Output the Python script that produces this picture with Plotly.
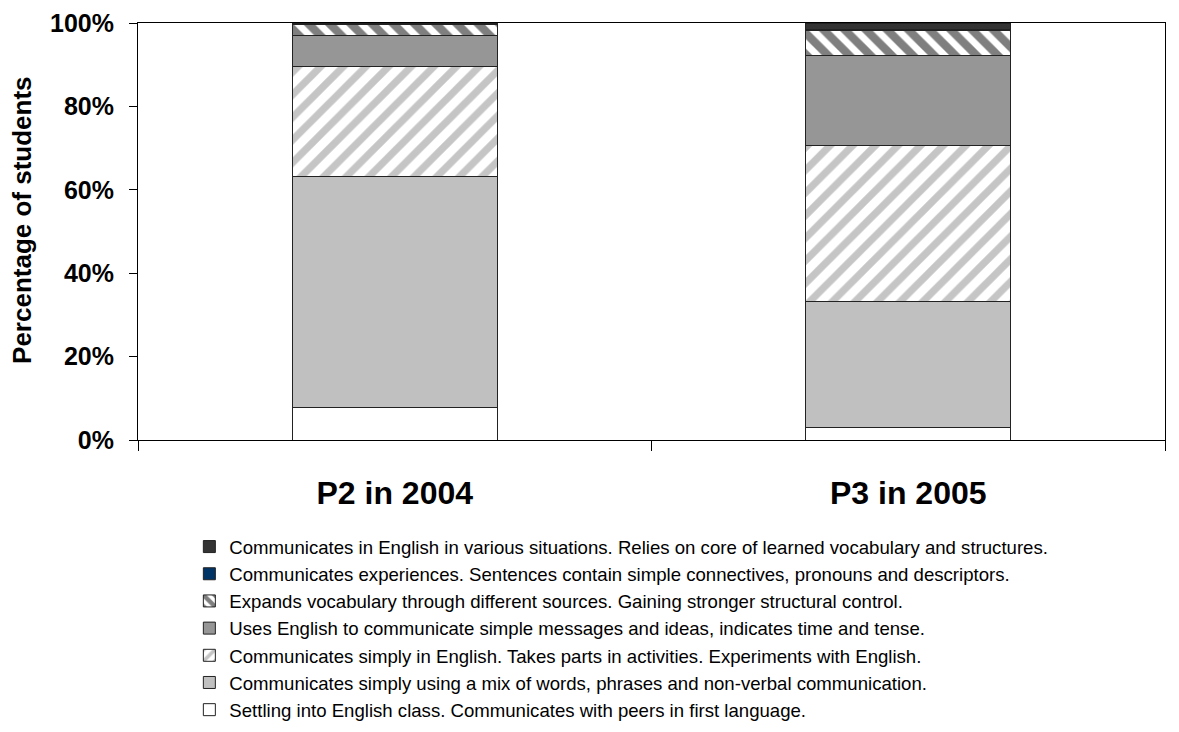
import plotly.graph_objects as go

categories = ["P2 in 2004", "P3 in 2005"]

series_names = [
    "Settling into English class. Communicates with peers in first language.",
    "Communicates simply using a mix of words, phrases and non-verbal communication.",
    "Communicates simply in English. Takes parts in activities. Experiments with English.",
    "Uses English to communicate simple messages and ideas, indicates time and tense.",
    "Expands vocabulary through different sources. Gaining stronger structural control.",
    "Communicates experiences. Sentences contain simple connectives, pronouns and descriptors.",
    "Communicates in English in various situations. Relies on core of learned vocabulary and structures.",
]

settling = [7.8, 3.0]
mix_words = [55.3, 30.2]
simply_english = [26.4, 37.5]
simple_messages = [7.5, 21.6]
expands_vocab = [2.6, 5.8]
experiences = [0.4, 0.3]
various_situations = [0.0, 1.6]

series_values = [settling, mix_words, simply_english, simple_messages,
                 expands_vocab, experiences, various_situations]

fills = ["#FFFFFF", "#C0C0C0", "#FFFFFF", "#969696", "#FFFFFF", "#003366", "#333333"]
patterns = [
    None, None,
    dict(shape="/", fgcolor="#8C8C8C", bgcolor="#FFFFFF", size=16, solidity=0.45),
    None,
    dict(shape="\\", fgcolor="#000000", bgcolor="#FFFFFF", size=15, solidity=0.55),
    None, None,
]

FONT = "Liberation Sans, Arial, sans-serif"

fig = go.Figure()
for name, vals, col, pat in zip(series_names, series_values, fills, patterns):
    marker = dict(color=col, line=dict(color="#222222", width=1))
    if pat:
        marker["pattern"] = pat
    fig.add_trace(go.Bar(x=categories, y=vals, name=name, marker=marker, width=0.4))

fig.update_layout(
    barmode="stack",
    width=1179, height=732,
    margin=dict(l=138, r=14, t=23, b=292, autoexpand=False),
    paper_bgcolor="white", plot_bgcolor="white",
    font=dict(family=FONT, color="#000000"),
    legend=dict(
        traceorder="reversed",
        x=0.05, y=-0.211, xanchor="left", yanchor="top",
        font=dict(size=18.6, family=FONT, color="#000000"),
        bgcolor="rgba(0,0,0,0)",
    ),
    xaxis=dict(
        automargin=False,
        tickson="boundaries",
        ticks="outside", ticklen=10, tickcolor="#000000",
        showline=True, linecolor="#000000", linewidth=1, mirror=True,
        showgrid=False,
        tickfont=dict(size=32, family=FONT, weight="bold"),
        ticklabelstandoff=25,
        range=[-0.5, 1.5],
    ),
    yaxis=dict(
        automargin=False,
        range=[0, 100], dtick=20, ticksuffix="%",
        ticks="outside", ticklen=8, tickcolor="#000000",
        showline=True, linecolor="#000000", linewidth=1, mirror=True,
        showgrid=False, zeroline=False,
        tickfont=dict(size=25, family=FONT, weight="bold"),
        ticklabelstandoff=10,
    ),
    annotations=[dict(
        text="Percentage of students", textangle=-90,
        xref="paper", yref="paper", x=-0.113, y=0.5276,
        xanchor="center", yanchor="middle", showarrow=False,
        font=dict(size=26, family=FONT, weight="bold", color="#000000"),
    )],
)

fig.write_html(
    "out.html",
    config={"displayModeBar": False},
    post_script="document.body.style.margin='0';document.body.style.overflow='hidden';",
)
